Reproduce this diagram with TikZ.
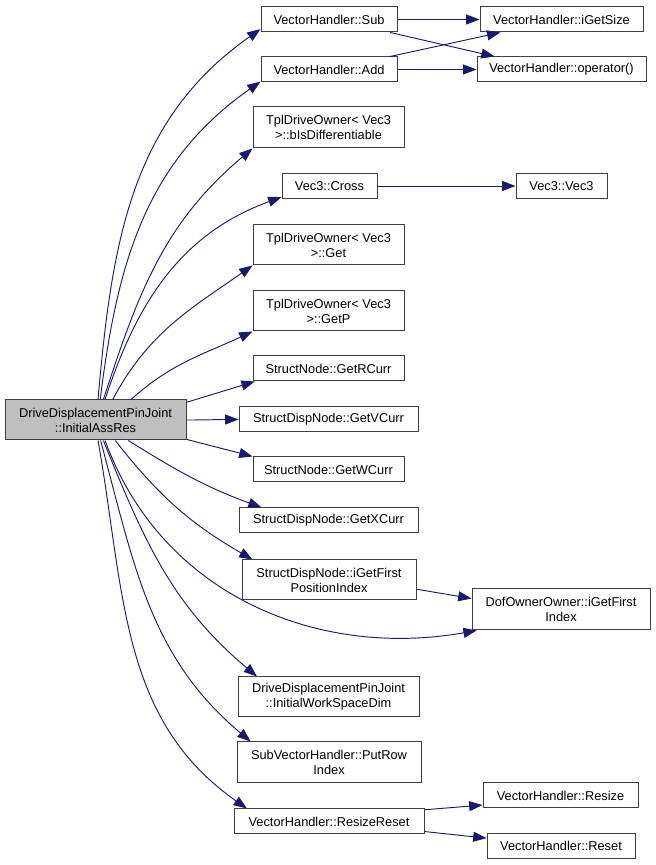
\documentclass[tikz,border=0pt]{standalone}
\usepackage{fontspec}
\setmainfont{Liberation Sans}
\usepackage{tikz}
\usetikzlibrary{arrows.meta}

\definecolor{callblue}{RGB}{25,25,112}
\definecolor{rootgray}{RGB}{191,191,191}

\begin{document}
\begin{tikzpicture}[
  x=0.75pt, y=0.75pt,
  font=\fontsize{9.6}{11.3}\selectfont, >={Triangle[length=10pt,width=7.5pt]},
  fn/.style={draw=black!75, line width=0.75pt, fill=white, inner sep=0pt, align=center, minimum height=18.75pt},
  fn2/.style={fn, minimum height=30pt},
  call/.style={->, draw=callblue, line width=0.7pt}]
\useasboundingbox (0,0) rectangle (656,865);
% caller
\node[fn2, fill=rootgray, minimum width=135.75pt] (root) at (95.5,445) {DriveDisplacementPinJoint\\::InitialAssRes};
% direct callees
\node[fn, minimum width=102pt] (sub) at (329,845.5) {VectorHandler::Sub};
\node[fn, minimum width=102pt] (add) at (329,795.5) {VectorHandler::Add};
\node[fn2, minimum width=113.25pt, minimum height=30.75pt] (bisd) at (328.5,737.5) {TplDriveOwner< Vec3\\>::bIsDifferentiable};
\node[fn, minimum width=71.25pt] (cross) at (329.5,679) {Vec3::Cross};
\node[fn2, minimum width=113.25pt] (get) at (328.5,620) {TplDriveOwner< Vec3\\>::Get};
\node[fn2, minimum width=113.25pt] (getp) at (328.5,554) {TplDriveOwner< Vec3\\>::GetP};
\node[fn, minimum width=113.25pt] (rcurr) at (328.5,496.5) {StructNode::GetRCurr};
\node[fn, minimum width=134.25pt] (vcurr) at (328.5,445.5) {StructDispNode::GetVCurr};
\node[fn, minimum width=113.25pt] (wcurr) at (328.5,395.5) {StructNode::GetWCurr};
\node[fn, minimum width=134.25pt] (xcurr) at (328.5,344.5) {StructDispNode::GetXCurr};
\node[fn2, minimum width=130.5pt] (gfpi) at (329,285) {StructDispNode::iGetFirst\\PositionIndex};
\node[fn2, minimum width=135.75pt] (iwsd) at (328.5,168) {DriveDisplacementPinJoint\\::InitialWorkSpaceDim};
\node[fn2, minimum width=138pt, minimum height=30.75pt] (prow) at (329,102.5) {SubVectorHandler::PutRow\\Index};
\node[fn, minimum width=142.5pt] (rreset) at (329,43.5) {VectorHandler::ResizeReset};
% second level
\node[fn, minimum width=122.25pt] (igs) at (561.5,845.5) {VectorHandler::iGetSize};
\node[fn, minimum width=126.75pt] (opr) at (561.5,795.5) {VectorHandler::operator()};
\node[fn, minimum width=68.25pt] (vec3) at (561.5,679) {Vec3::Vec3};
\node[fn2, minimum width=133.5pt, minimum height=30.75pt] (dof) at (561,255.5) {DofOwnerOwner::iGetFirst\\Index};
\node[fn, minimum width=116.25pt] (resize) at (560.5,69.5) {VectorHandler::Resize};
\node[fn, minimum width=111pt] (reset) at (561,19) {VectorHandler::Reset};
% calls from the caller
\foreach \n/\a/\b/\o/\i in {sub/83/188/85/215, add/77/190/83/215, bisd/69/south west/72/220,
    cross/65/193/72/200, get/50/south west/62/215, getp/30/south west/42/205,
    rcurr/11/190/17/197, vcurr/east/west/0/180, wcurr/-12/north west/-15/165,
    xcurr/-32/169/-32/160, gfpi/-46/165/-52/150, dof/-65/194/-70/190,
    iwsd/-69/164/-68/140, prow/-76/165/-75/140, rreset/-83/171/-80/145}{
  \draw[call] (root.\a) to[out=\o, in=\i] (\n.\b);
}
% further calls
\draw[call] (sub) -- (igs);
\draw[call] (sub.-12) -- (opr.169);
\draw[call] (add.12) -- (igs.192);
\draw[call] (add) -- (opr);
\draw[call] (cross) -- (vec3);
\draw[call] (gfpi.-6) -- (dof.173);
\draw[call] (rreset.7) -- (resize.187);
\draw[call] (rreset.-6) -- (reset.174);
\end{tikzpicture}
\end{document}
